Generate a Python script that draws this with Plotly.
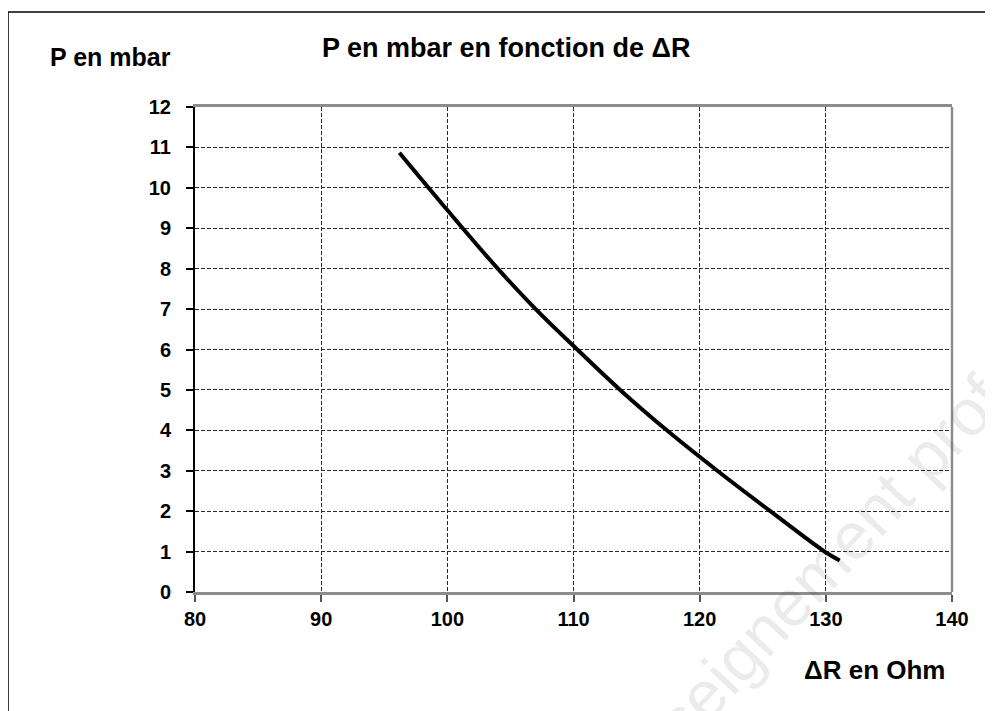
import plotly.graph_objects as go

# Data
delta_r = [96.2, 100.0, 104.0, 107.0, 110.3, 113.7, 117.4, 121.4, 125.6, 129.9, 131.1]
pressure = [10.87, 9.45, 8.0, 7.0, 6.0, 5.0, 4.0, 3.0, 2.0, 1.0, 0.78]

x_ticks = [80, 90, 100, 110, 120, 130, 140]
y_ticks = list(range(0, 13))

FONT = "Liberation Sans, Arial, sans-serif"

fig = go.Figure()
fig.add_trace(go.Scatter(
    x=delta_r, y=pressure, mode="lines",
    line=dict(color="black", width=4, shape="spline", smoothing=1.0),
    showlegend=False, hoverinfo="skip",
))

# page body has an 8px margin, so the plot area is shifted by -8px in figure coordinates
fig.update_layout(
    width=993, height=711,
    margin=dict(l=187, r=49, t=99, b=127),
    paper_bgcolor="white", plot_bgcolor="white",
    xaxis=dict(
        range=[80, 140], tickvals=x_ticks, ticktext=[str(v) for v in x_ticks],
        showgrid=True, gridcolor="#2a2a2a", gridwidth=1, griddash="4px,2px",
        showline=True, linecolor="#8c8c8c", linewidth=2.5, mirror=True,
        ticks="outside", ticklen=7, tickcolor="#555555", tickwidth=1.5,
        tickfont=dict(family=FONT, size=20, color="black", weight="bold"),
        ticklabelstandoff=0, zeroline=False,
    ),
    yaxis=dict(
        range=[0, 12], tickvals=y_ticks,
        showgrid=True, gridcolor="#2a2a2a", gridwidth=1, griddash="4px,2px",
        showline=True, linecolor="black", linewidth=2, mirror=False,
        ticks="outside", ticklen=7, tickcolor="black", tickwidth=1.5,
        tickfont=dict(family=FONT, size=20, color="black", weight="bold"),
        ticklabelstandoff=11, zeroline=False,
    ),
)

# right border of plot area (gray) and outer chart border
fig.add_shape(type="line", xref="paper", yref="paper", x0=1, x1=1, y0=0, y1=1,
              line=dict(color="#8c8c8c", width=2.5), layer="above")
fig.add_shape(type="line", xref="paper", yref="paper", x0=-0.247, x1=-0.247, y0=1.196, y1=-0.3,
              line=dict(color="black", width=1.5))
fig.add_shape(type="line", xref="paper", yref="paper", x0=-0.247, x1=1.1, y0=1.196, y1=1.196,
              line=dict(color="black", width=1.5))

# watermark
fig.add_annotation(xref="paper", yref="paper", x=0.8045, y=0.0103,
                   text="enseignement prof", showarrow=False, textangle=-47,
                   font=dict(family=FONT, size=66, color="rgba(0,0,0,0.08)"),
                   xanchor="center", yanchor="middle")

# titles
fig.add_annotation(xref="paper", yref="paper", x=0.411, y=1.1216,
                   text="P en mbar en fonction de ΔR", showarrow=False,
                   font=dict(family=FONT, size=27, color="black", weight="bold"),
                   xanchor="center", yanchor="middle")
fig.add_annotation(xref="paper", yref="paper", x=-0.112, y=1.103,
                   text="P en mbar", showarrow=False,
                   font=dict(family=FONT, size=25, color="black", weight="bold"),
                   xanchor="center", yanchor="middle")
fig.add_annotation(xref="paper", yref="paper", x=0.898, y=-0.161,
                   text="ΔR en Ohm", showarrow=False,
                   font=dict(family=FONT, size=26, color="black", weight="bold"),
                   xanchor="center", yanchor="middle")

fig.write_html("out.html")
